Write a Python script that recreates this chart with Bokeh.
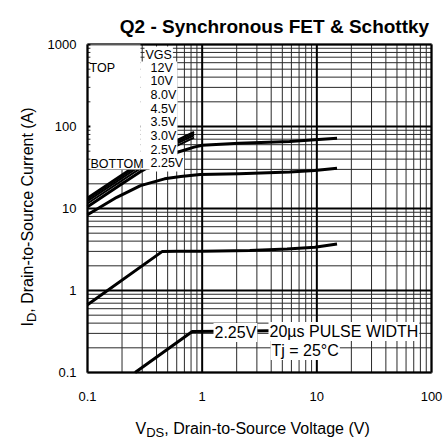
import math
from bokeh.plotting import figure
from bokeh.models import Label, BoxAnnotation
from bokeh.core.properties import value
from bokeh.embed import file_html
from bokeh.resources import INLINE

FONT = "Liberation Sans"

# ---------------- data ----------------
x_tick_values = [0.1, 1, 10, 100]
x_tick_labels = ["0.1", "1", "10", "100"]
y_tick_values = [0.1, 1, 10, 100, 1000]
y_tick_labels = ["0.1", "1", "10", "100", "1000"]
minor_mult = [2, 3, 4, 5, 6, 7, 8, 9]

vgs_header = "VGS"
vgs_legend = ["12V", "10V", "8.0V", "4.5V", "3.5V", "3.0V", "2.5V", "2.25V"]

# curves: VDS (V) vs ID (A)
vds_bundle = [0.1, 0.25, 0.5, 0.6, 0.85]
id_12v = [13.6, 32.0, 60.0, 68.0, 86.0]
id_10v = [13.0, 30.5, 57.0, 65.0, 82.0]
id_8v = [12.3, 29.0, 54.0, 62.0, 78.0]
id_4v5 = [11.5, 27.0, 50.0, 58.0, 73.0]

vds_3v5 = [0.1, 0.2, 0.3, 0.45, 0.61, 0.85, 1.0, 2.1, 5.8, 9.6, 15.0]
id_3v5 = [10.5, 20.0, 29.0, 40.0, 48.6, 56.0, 59.0, 62.5, 65.6, 69.0, 72.0]

vds_3v0 = [0.1, 0.18, 0.29, 0.47, 0.65, 0.96, 2.1, 5.8, 9.6, 15.0]
id_3v0 = [8.4, 13.7, 19.0, 23.0, 24.5, 26.0, 26.5, 27.8, 29.0, 31.0]

vds_2v5 = [0.1, 0.45, 0.6, 1.0, 2.6, 5.5, 9.6, 15.0]
id_2v5 = [0.67, 3.0, 3.02, 3.02, 3.07, 3.2, 3.37, 3.7]

vds_2v25 = [0.26, 0.82, 1.5, 15.0]
id_2v25 = [0.1, 0.316, 0.318, 0.33]

# ---------------- layout (page pixels) ----------------
W, H = 448, 441
BOX_L, BOX_R, BOX_T, BOX_B = 87, 431, 44, 372
x_lo, x_hi = x_tick_values[0], x_tick_values[-1]
y_lo, y_hi = y_tick_values[0], y_tick_values[-1]
DX = (BOX_R - BOX_L) / math.log10(x_hi / x_lo)
DY = (BOX_B - BOX_T) / math.log10(y_hi / y_lo)
x_range = (x_lo / 10 ** (BOX_L / DX), x_hi * 10 ** ((W - BOX_R) / DX))
y_range = (y_lo / 10 ** ((H - BOX_B) / DY), y_hi * 10 ** (BOX_T / DY))

p = figure(width=W, height=H, x_axis_type="log", y_axis_type="log",
           x_range=x_range, y_range=y_range,
           x_axis_location=None, y_axis_location=None,
           output_backend="svg", toolbar_location=None, min_border=0)
p.title.text = ""
p.grid.visible = False
p.outline_line_color = None
p.background_fill_color = "white"
p.border_fill_color = "white"

# ---------------- grid (from tick values) ----------------
x_minor = [m * 10 ** e for e in range(-1, 2) for m in minor_mult]
y_minor = [m * 10 ** e for e in range(-1, 3) for m in minor_mult]

def vlines(xs, color, width):
    p.segment(x0=xs, x1=xs, y0=[y_lo] * len(xs), y1=[y_hi] * len(xs),
              line_color=color, line_width=width)

def hlines(ys, color, width):
    p.segment(x0=[x_lo] * len(ys), x1=[x_hi] * len(ys), y0=ys, y1=ys,
              line_color=color, line_width=width)

vlines(x_minor, "#2a2a2a", 1)
hlines(y_minor, "#2a2a2a", 1)
vlines(x_tick_values, "black", 2)
hlines(y_tick_values, "black", 2)

# ---------------- tick labels ----------------
p.text(x=x_tick_values, y=[y_lo] * len(x_tick_values), text=x_tick_labels,
       y_offset=24, text_align="center", text_baseline="middle",
       text_font=value(FONT), text_font_size=value("13px"), text_color="black")
p.text(x=[x_lo] * len(y_tick_values), y=y_tick_values, text=y_tick_labels,
       x_offset=-11, text_align="right", text_baseline="middle",
       text_font=value(FONT), text_font_size=value("13px"), text_color="black")

# ---------------- curves ----------------
for ids in (id_12v, id_10v, id_8v, id_4v5):
    p.line(vds_bundle, ids, line_color="black", line_width=2, line_join="round")
for xs, ys in ((vds_3v5, id_3v5), (vds_3v0, id_3v0), (vds_2v5, id_2v5), (vds_2v25, id_2v25)):
    p.line(xs, ys, line_color="black", line_width=3, line_join="round")

# ---------------- legend blanking boxes & frame ----------------
p.add_layout(BoxAnnotation(left=0.106, right=0.29, bottom=29.9, top=y_hi,
                           fill_color="white", fill_alpha=1, line_color=None))
p.add_layout(BoxAnnotation(left=0.29, right=0.607, bottom=29.9, top=621,
                           fill_color="white", fill_alpha=1, line_color=None))
p.add_layout(BoxAnnotation(left=x_lo, right=x_hi, bottom=y_lo, top=y_hi,
                           fill_alpha=0, line_color="black", line_width=3))

def lab(text, px, py, size, align="left", baseline="middle", bg=None, style="normal", angle=0.0):
    kw = dict(x=px, y=H - py, x_units="screen", y_units="screen", text=text,
              text_font=FONT, text_font_size=size, text_color="black",
              text_align=align, text_baseline=baseline, text_font_style=style, angle=angle)
    if bg:
        kw.update(background_fill_color=bg, background_fill_alpha=1, padding=1)
    p.add_layout(Label(**kw))

# legend texts
lab(vgs_header, 144, 54, "12.5px", bg="white")
lab("TOP", 89, 67, "12.5px")
lab("BOTTOM", 90, 163, "12.5px")
for i, t in enumerate(vgs_legend):
    lab(t, 149, 67 + i * 13.7, "12.5px", bg="white")

# annotations lower right
lab("2.25V", 213, 332, "16px", bg="white")
lab("20\u00b5s PULSE WIDTH", 268, 331, "16px", bg="white")
lab("Tj = 25\u00b0C", 270, 350, "16px", bg="white")

# title
lab("Q2 - Synchronous FET & Schottky", 274, 26, "19px", align="center",
    baseline="alphabetic", style="bold")

# x axis label with subscript
lab("V", 135, 428, "16px", baseline="alphabetic")
lab("DS", 145.7, 432, "13px", baseline="alphabetic")
lab(", Drain-to-Source Voltage (V)", 163.8, 428, "16px", baseline="alphabetic")

# y axis label with subscript (rotated)
A = math.pi / 2
lab("I", 27, 326, "16px", baseline="alphabetic", angle=A)
lab("D", 31, 321.6, "13px", baseline="alphabetic", angle=A)
lab(", Drain-to-Source Current (A)", 27, 312.2, "16px", baseline="alphabetic", angle=A)

open("out.html", "w").write(file_html(p, INLINE))
